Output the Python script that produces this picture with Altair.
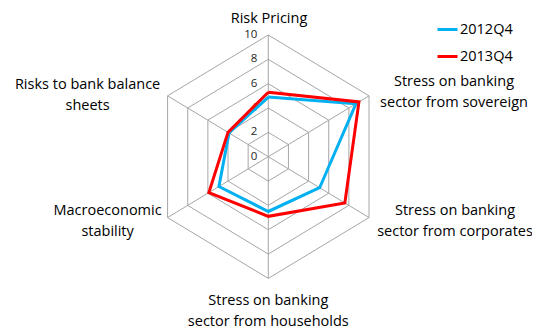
import altair as alt
import pandas as pd
import numpy as np

# ---------------- data ----------------
categories = [
    "Risk Pricing",
    "Stress on banking\nsector from sovereign",
    "Stress on banking\nsector from corporates",
    "Stress on banking\nsector from households",
    "Macroeconomic\nstability",
    "Risks to bank balance\nsheets",
]
series_names = ["2012Q4", "2013Q4"]
values_2012 = [4.9, 8.7, 5.1, 4.5, 4.9, 3.9]
values_2013 = [5.3, 9.0, 7.6, 4.9, 5.9, 4.0]
tick_levels = [0, 2, 4, 6, 8, 10]
tick_labels = ["0", "2", "4", "6", "8", "10"]

# ---------------- layout ----------------
W, H = 524, 322
PX_X, PX_Y = 11.63, 12.17          # pixels per unit
CX, CY = 260.3, 148.7              # centre in plot coords
xdom = [-CX / PX_X, (W - CX) / PX_X]
ydom = [-(H - CY) / PX_Y, CY / PX_Y]
FONT = "Open Sans"
LINE_H = 21
RMAX = max(tick_levels)

n = len(categories)
angles = [2 * np.pi * i / n for i in range(n)]

# label block-centre offsets from the outer vertex, in pixels (layout only)
label_dx = [0.7, 85, 86, 0, -60, -80]
label_dy = [-16, -3, 3.5, 32.6, 4, 0]
nlines = [c.count("\n") + 1 for c in categories]
label_dy = [d - (k - 1) * LINE_H / 2 for d, k in zip(label_dy, nlines)]

series_rows = []
for s, vals in zip(series_names, [values_2012, values_2013]):
    for k in range(n + 1):
        i = k % n
        series_rows.append(dict(series=s, ord=k, value=vals[i], angle=angles[i]))
series_df = pd.DataFrame(series_rows)

grid_rows = []
for lv in tick_levels[1:]:
    for k in range(n + 1):
        i = k % n
        grid_rows.append(dict(level=lv, ord=k, angle=angles[i]))
grid_df = pd.DataFrame(grid_rows)

spoke_df = pd.DataFrame(dict(angle=angles, r=[RMAX] * n))
tick_df = pd.DataFrame(dict(level=tick_levels, label=tick_labels))
label_df = pd.DataFrame(dict(
    cat=categories, angle=angles,
    dxu=[d / PX_X for d in label_dx], dyu=[-d / PX_Y for d in label_dy]))

xs = alt.Scale(domain=xdom, nice=False, zero=False)
ys = alt.Scale(domain=ydom, nice=False, zero=False)

grid = alt.Chart(grid_df).transform_calculate(
    x="datum.level*sin(datum.angle)", y="datum.level*cos(datum.angle)"
).mark_line(color="#A6A6A6", strokeWidth=1).encode(
    x=alt.X("x:Q", scale=xs, axis=None),
    y=alt.Y("y:Q", scale=ys, axis=None),
    detail="level:N",
    order="ord:Q",
)

spokes = alt.Chart(spoke_df).transform_calculate(
    x="datum.r*sin(datum.angle)", y="datum.r*cos(datum.angle)", z="0"
).mark_rule(color="#A6A6A6", strokeWidth=1).encode(
    x=alt.X("z:Q", scale=xs, axis=None),
    y=alt.Y("z:Q", scale=ys, axis=None),
    x2="x:Q",
    y2="y:Q",
)

ticks = alt.Chart(tick_df).transform_calculate(z="0").mark_text(
    align="right", baseline="middle", dx=-11, font=FONT, fontSize=11.5, color="#262626"
).encode(
    x=alt.X("z:Q", scale=xs, axis=None),
    y=alt.Y("level:Q", scale=ys, axis=None),
    text="label:N",
)

lines = alt.Chart(series_df).transform_calculate(
    x="datum.value*sin(datum.angle)", y="datum.value*cos(datum.angle)"
).mark_line(strokeWidth=3, strokeJoin="miter").encode(
    x=alt.X("x:Q", scale=xs, axis=None),
    y=alt.Y("y:Q", scale=ys, axis=None),
    color=alt.Color(
        "series:N",
        scale=alt.Scale(domain=series_names, range=["#00B0F0", "#FF0000"]),
        legend=alt.Legend(
            title=None, orient="none", legendX=428, legendY=10,
            symbolType="stroke", symbolStrokeWidth=3, symbolSize=400,
            labelFont=FONT, labelFontSize=14.5, labelColor="#000000",
            rowPadding=9, labelOffset=1, padding=0,
        ),
    ),
    detail="series:N",
    order="ord:Q",
)

labels = alt.Chart(label_df).transform_calculate(
    x=f"{RMAX}*sin(datum.angle)+datum.dxu", y=f"{RMAX}*cos(datum.angle)+datum.dyu"
).mark_text(
    align="center", baseline="middle", lineBreak="\n", lineHeight=LINE_H,
    font=FONT, fontSize=14.5, color="#000000",
).encode(
    x=alt.X("x:Q", scale=xs, axis=None),
    y=alt.Y("y:Q", scale=ys, axis=None),
    text="cat:N",
)

chart = alt.layer(grid, spokes, ticks, lines, labels).properties(
    width=W, height=H, padding=0, autosize=alt.AutoSizeParams(type="none"),
).configure_view(stroke=None)

chart.save("out.html", embed_options={"renderer": "svg", "actions": False})
